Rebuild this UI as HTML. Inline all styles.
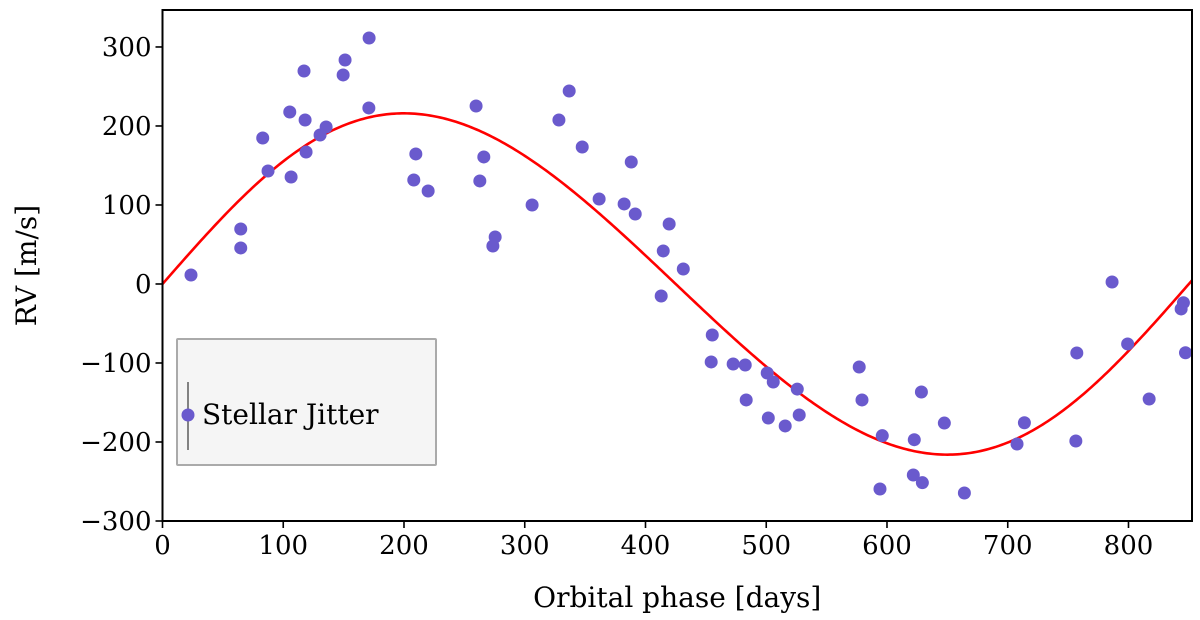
<!DOCTYPE html>
<html><head><meta charset="utf-8"><style>
html,body{margin:0;padding:0;background:#fff;}
svg{display:block;font-family:"DejaVu Serif","Liberation Serif",serif;}
</style></head><body>
<svg id="chart" width="1200" height="620" viewBox="0 0 1200 620">
<rect width="1200" height="620" fill="#fff"/>
<g id="plot"></g>
</svg>
<script>
const days=[23.6,64.8,64.8,83.0,87.4,105.4,106.5,117.2,118.1,118.9,130.5,135.5,149.6,151.2,171.1,170.9,209.8,208.1,220.0,259.7,266.1,262.8,275.5,273.6,306.1,328.3,336.8,347.6,361.6,382.3,391.5,388.2,419.6,414.7,431.3,413,455.3,454.4,472.6,482.6,500.8,505.8,525.7,483.4,501.7,515.7,527.3,577.0,579.3,596.1,594.2,622.6,621.8,629.3,628.5,647.5,664.1,707.7,713.8,757.2,756.4,786.4,799.3,817.1,845.5,843.6,847.2];
const rvs=[11.4,69.6,45.6,184.8,143.0,217.7,135.4,269.6,207.6,167.1,188.6,198.7,264.6,283.5,311.4,222.8,164.6,131.6,117.7,225.3,160.8,130.4,59.5,48.1,100,207.6,244.3,173.4,107.6,101.3,88.6,154.4,75.9,41.8,19,-15.2,-64.6,-98.7,-101.3,-102.5,-112.7,-124.1,-133,-146.8,-169.6,-179.7,-165.8,-105.1,-146.8,-192,-259.5,-197.1,-241.8,-251.5,-136.7,-176,-264.6,-202.5,-175.6,-87.3,-198.7,2.5,-75.9,-145.6,-23.7,-31.6,-87];
const xTicks=[0,100,200,300,400,500,600,700,800];
const yTicks=[-300,-200,-100,0,100,200,300];
const modelParams=[216,850,0,0.093]; // amplitude, period, phase, warp

const L=162.5,R=1192,T=10,B=521;
const xMin=0,xMax=852.6,yMin=-300,yMax=346.8;
const sx=v=>L+(v-xMin)/(xMax-xMin)*(R-L);
const sy=v=>B-(v-yMin)/(yMax-yMin)*(B-T);
const NS="http://www.w3.org/2000/svg";
const g=document.getElementById('plot');
function mk(tag,attrs,parent){const e=document.createElementNS(NS,tag);for(const k in attrs)e.setAttribute(k,attrs[k]);(parent||g).appendChild(e);return e;}

let d="";
for(let i=0;i<=400;i++){const t=xMin+(xMax-xMin)*i/400;const w=2*Math.PI*(t-modelParams[2])/modelParams[1];const th=w+modelParams[3]*Math.sin(w);const v=modelParams[0]*Math.sin(th);d+=(i?"L":"M")+sx(t).toFixed(2)+","+sy(v).toFixed(2);}
const curve=mk('path',{d:d,fill:'none',stroke:'#ff0000','stroke-width':2.6});



days.forEach((x,i)=>{
 const c=mk('circle',{cx:sx(x),cy:sy(rvs[i]),r:6.5,fill:'#6a5acd'});
 
 
});

const fr=mk('rect',{x:L,y:T,width:R-L,height:B-T,fill:'none',stroke:'#000','stroke-width':2});



xTicks.forEach(v=>{
 mk('line',{x1:sx(v),x2:sx(v),y1:B,y2:B+7,stroke:'#000','stroke-width':1.6});
 const t=mk('text',{x:sx(v),y:B+33,'text-anchor':'middle','font-size':26,fill:'#000'});
 t.textContent=v;
 
 
});
yTicks.forEach(v=>{
 mk('line',{x1:L-7,x2:L,y1:sy(v),y2:sy(v),stroke:'#000','stroke-width':1.6});
 const t=mk('text',{x:L-11,y:sy(v)+9,'text-anchor':'end','font-size':26,fill:'#000'});
 t.textContent=(v<0?'\u2212'+(-v):v);
 
 
});
const xl=mk('text',{x:(L+R)/2,y:607,'text-anchor':'middle','font-size':28,fill:'#000'});
xl.textContent='Orbital phase [days]';


const yl=mk('text',{x:0,y:0,'text-anchor':'middle','font-size':28,fill:'#000',transform:'translate(36,'+((T+B)/2)+') rotate(-90)'});
yl.textContent='RV [m/s]';



const lg=mk('g',{});


mk('rect',{x:177,y:339,width:259,height:126,fill:'#f5f5f5',stroke:'#aaa','stroke-width':2,rx:1},lg);
mk('line',{x1:188,x2:188,y1:382,y2:450,stroke:'#666','stroke-width':1.6},lg);
mk('circle',{cx:188,cy:415,r:6.5,fill:'#6a5acd'},lg);
const lt=mk('text',{x:202,y:424,'font-size':28,fill:'#000'},lg);
lt.textContent='Stellar Jitter';


</script>
</body></html>
